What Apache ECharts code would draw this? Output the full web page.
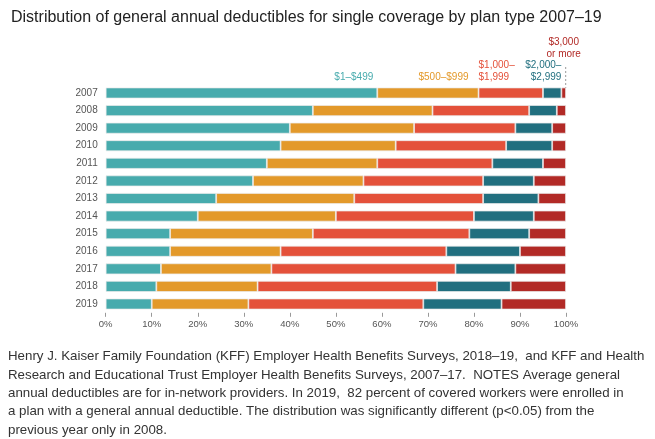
<!DOCTYPE html>
<html><head><meta charset="utf-8">
<script src="https://cdn.jsdelivr.net/npm/echarts@6/dist/echarts.min.js"></script>
<style>html,body{margin:0;padding:0;background:#fff}#c{width:655px;height:439px}</style>
</head><body><div id="c"></div>
<script>
const years = ['2007','2008','2009','2010','2011','2012','2013','2014','2015','2016','2017','2018','2019'];
const band1 = [59,45,40,38,35,32,24,20,14,14,12,11,10];   // $1–$499
const band2 = [22,26,27,25,24,24,30,30,31,24,24,22,21];   // $500–$999
const band3 = [14,21,22,24,25,26,28,30,34,36,40,39,38];   // $1,000–$1,999
const band4 = [4,6,8,10,11,11,12,13,13,16,13,16,17];      // $2,000–$2,999
const band5 = [1,2,3,3,5,7,6,7,8,10,11,12,14];            // $3,000 or more
const bandNames = ['$1–$499','$500–$999','$1,000–\n$1,999','$2,000–\n$2,999','$3,000\nor more'];
const xTicks = [0,10,20,30,40,50,60,70,80,90,100];
const footLines = [
 'Henry J. Kaiser Family Foundation (KFF) Employer Health Benefits Surveys, 2018–19,  and KFF and Health',
 'Research and Educational Trust Employer Health Benefits Surveys, 2007–17.  NOTES Average general',
 'annual deductibles are for in-network providers. In 2019,  82 percent of covered workers were enrolled in',
 'a plan with a general annual deductible. The distribution was significantly different (p<0.05) from the',
 'previous year only in 2008.'
];
const colors = ['#47abad','#e3992a','#e4513a','#216f7f','#b22a26'];
const labelPos = [
  {position:[ '100%', -4], align:'right', offset:[-4,0]},
  {position:[ '100%', -4], align:'right', offset:[-10,0]},
  {position:[ 0, -4], align:'left', offset:[0,0]},
  {position:[ '100%', -4], align:'right', offset:[0,0]},
  {position:[ '50%', -27], align:'center', offset:[0,0]}
];
const FONT = '"Liberation Sans", Arial, sans-serif';
const chart = echarts.init(document.getElementById('c'), null, {renderer:'canvas'});
const datasets = [band1,band2,band3,band4,band5];
const series = datasets.map((d,i)=>({
  name: bandNames[i], type:'bar', stack:'all', barWidth: 11,
  itemStyle:{color:colors[i], borderColor:'rgba(235,235,235,0.9)', borderWidth:0.8},
  data: d.map((v,j)=>{
    if(j!==0) return v;
    return {value:v, label:{show:true, formatter:bandNames[i], position:labelPos[i].position,
      align:labelPos[i].align, verticalAlign:'bottom', offset:labelPos[i].offset,
      color:colors[i], fontSize:10, lineHeight:12, fontFamily:FONT}};
  })
}));
const foot = footLines.map((t,i)=>({type:'text', left:8, top:350+i*18.4,
    style:{text:t, fontFamily:FONT, fontSize:13.3, fill:'#333'}}));
chart.setOption({
  animation:false,
  title:{text:'Distribution of general annual deductibles for single coverage by plan type 2007–19',
    left:6, top:5, textStyle:{fontFamily:FONT, fontSize:16, fontWeight:'normal', color:'#222'}},
  grid:{left:105.7, right:89, top:84.2, bottom:126.2},
  xAxis:{type:'value', min:0, max:100, interval:10,
    axisLine:{show:false}, splitLine:{show:false},
    axisTick:{show:true, length:4, lineStyle:{color:'#999'}},
    axisLabel:{formatter:'{value}%', color:'#555', fontSize:9.5, fontFamily:FONT, margin:7}},
  yAxis:{type:'category', data:years, inverse:true,
    axisLine:{show:false}, axisTick:{show:false},
    axisLabel:{color:'#555', fontSize:10, fontFamily:FONT, margin:8}},
  series: series,
  graphic: foot
});
// leader line for "$3,000 or more" tied to the 2007 bar end
const pTop = chart.convertToPixel({gridIndex:0},[100 - band5[0]/2, years[0]]);
chart.setOption({graphic: foot.concat([{
  type:'line', shape:{x1:pTop[0]+2, y1:pTop[1]-26, x2:pTop[0]+2, y2:pTop[1]-5},
  style:{stroke:'#999', lineWidth:1, lineDash:[2,2]}}])});
</script></body></html>
